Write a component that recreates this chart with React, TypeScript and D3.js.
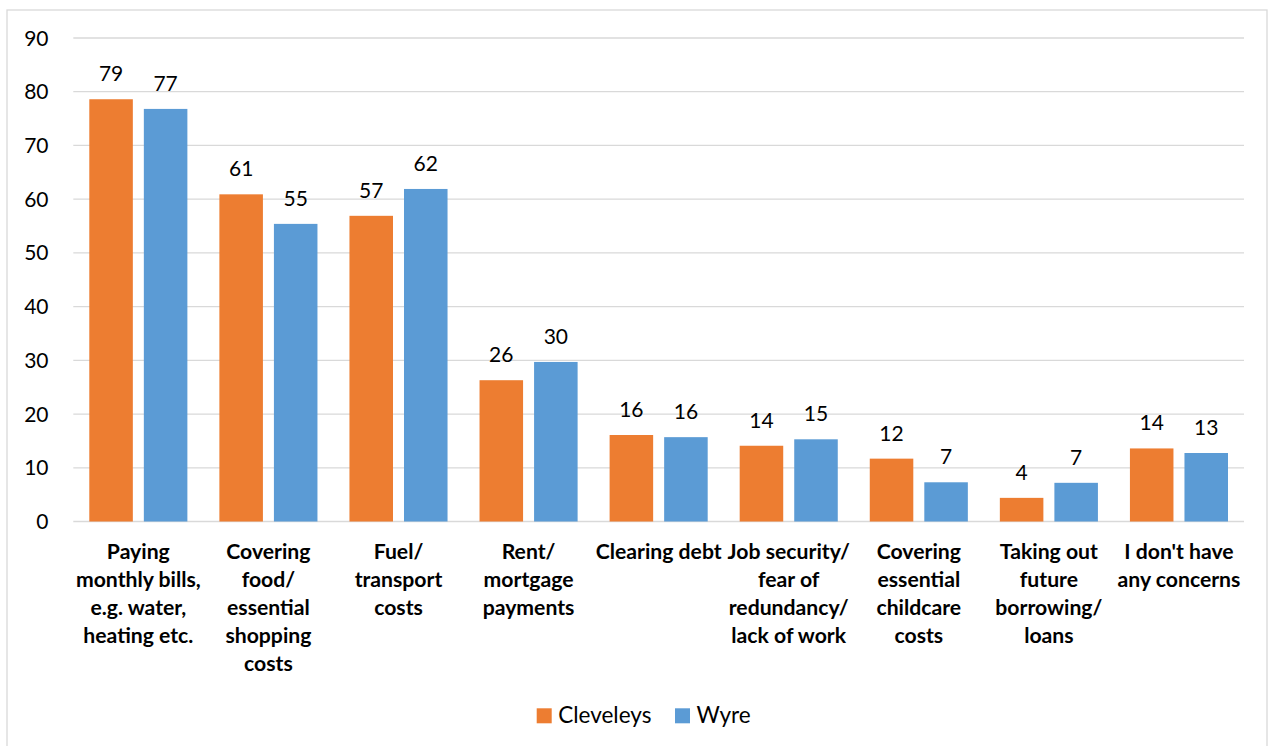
import React from "react";
import * as d3 from "d3";

const categories: string[] = [
  "Paying\nmonthly bills,\ne.g. water,\nheating etc.",
  "Covering\nfood/\nessential\nshopping\ncosts",
  "Fuel/\ntransport\ncosts",
  "Rent/\nmortgage\npayments",
  "Clearing debt",
  "Job security/\nfear of\nredundancy/\nlack of work",
  "Covering\nessential\nchildcare\ncosts",
  "Taking out\nfuture\nborrowing/\nloans",
  "I don't have\nany concerns",
];
const seriesNames: string[] = ["Cleveleys", "Wyre"];
const cleveleys: number[] = [78.6, 60.9, 56.9, 26.3, 16.1, 14.1, 11.7, 4.4, 13.6];
const wyre: number[] = [76.8, 55.4, 61.9, 29.7, 15.7, 15.3, 7.3, 7.2, 12.75];
const yTicks: number[] = [0, 10, 20, 30, 40, 50, 60, 70, 80, 90];
const colors: string[] = ["#ED7D31", "#5B9BD5"];

const W = 1268;
const H = 746;
const plotLeft = 73.3;
const plotRight = 1244;
const plotTop = 38;
const plotBottom = 521.5;
const FONT = "Lato, 'Open Sans', sans-serif";

export default function App() {
  const series = [cleveleys, wyre];
  const x = d3.scaleBand<string>().domain(categories).range([plotLeft, plotRight]).paddingInner(0).paddingOuter(0);
  const step = x.bandwidth();
  const xInner = d3
    .scaleBand<number>()
    .domain([0, 1])
    .range([16, step - 16])
    .paddingInner(0.2018)
    .paddingOuter(0);
  const y = d3.scaleLinear().domain([0, 90]).range([plotBottom, plotTop]);

  return (
    <svg
      width={W}
      height={H}
      style={{ position: "absolute", left: 0, top: 0, background: "#fff" }}
      fontFamily={FONT}
    >
      <rect x={7} y={10} width={1260} height={760} fill="#fff" stroke="#d9d9d9" strokeWidth={1.3} />
      {yTicks.map((t) => (
        <g key={t}>
          <line x1={plotLeft} x2={plotRight} y1={y(t)} y2={y(t)} stroke="#d9d9d9" strokeWidth={1.3} />
          <text x={48.5} y={y(t)} dy="0.36em" textAnchor="end" fontSize={21} fill="#000">
            {t}
          </text>
        </g>
      ))}
      {categories.map((c, i) => (
        <g key={c} transform={`translate(${x(c)},0)`}>
          {series.map((s, si) => {
            const v = s[i];
            const bx = xInner(si)!;
            const bw = xInner.bandwidth();
            return (
              <g key={si}>
                <rect x={bx} y={y(v)} width={bw} height={y(0) - y(v)} fill={colors[si]} />
                <text x={bx + bw / 2} y={y(v) - 18} textAnchor="middle" fontSize={21} fill="#000">
                  {Math.round(v)}
                </text>
              </g>
            );
          })}
          {c.split("\n").map((line, li) => (
            <text
              key={li}
              x={step / 2}
              y={558.5 + li * 28}
              textAnchor="middle"
              fontSize={21.2}
              fontWeight="bold"
              fill="#000"
            >
              {line}
            </text>
          ))}
        </g>
      ))}
      {seriesNames.map((n, i) => {
        const lx = [536.7, 675][i];
        return (
          <g key={n}>
            <rect x={lx} y={708.3} width={15} height={15} fill={colors[i]} />
            <text x={lx + 21.5} y={722.5} fontSize={22.5} fill="#000">
              {n}
            </text>
          </g>
        );
      })}
    </svg>
  );
}
